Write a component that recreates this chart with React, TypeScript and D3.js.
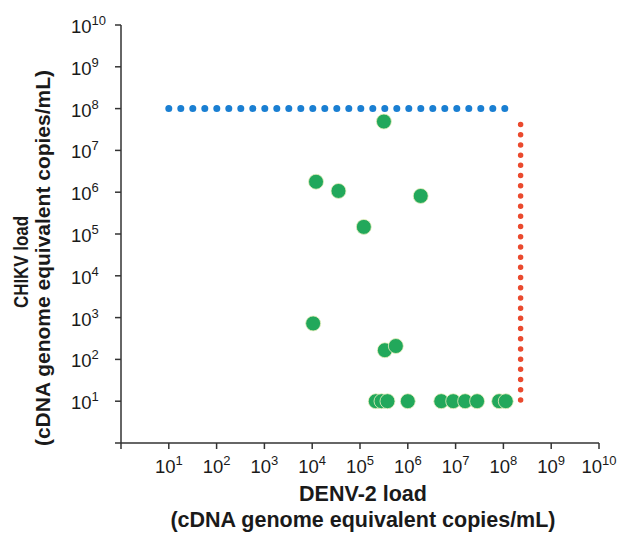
import React from "react";
import * as d3 from "d3";

// ---- data ----
const xTickExponents = [1, 2, 3, 4, 5, 6, 7, 8, 9, 10];
const yTickExponents = [1, 2, 3, 4, 5, 6, 7, 8, 9, 10];
const allTickExponents = [0, 1, 2, 3, 4, 5, 6, 7, 8, 9, 10];

// co-infected samples (log10 DENV-2 load, log10 CHIKV load)
const greenLogX = [5.5, 4.08, 4.55, 6.27, 5.08, 4.02, 5.52, 5.75, 5.33, 5.45, 5.575, 6.0, 6.7, 6.95, 7.2, 7.45, 7.91, 8.05];
const greenLogY = [7.69, 6.25, 6.03, 5.91, 5.17, 2.86, 2.22, 2.32, 1, 1, 1, 1, 1, 1, 1, 1, 1, 1];

// dotted reference lines (log10 values)
const blueLineLogX = [1, 8.05];
const blueLineLogY = [8, 8];
const redLineLogX = [8.36, 8.36];
const redLineLogY = [1.03, 7.85];

const xTitle = ["DENV-2 load", "(cDNA genome equivalent copies/mL)"];
const yTitle = ["CHIKV load", "(cDNA genome equivalent copies/mL)"];

export default function App() {
  const W = 633, H = 538;
  const x = d3.scaleLog().domain([1, 1e10]).range([121, 599]);
  const y = d3.scaleLog().domain([1, 1e10]).range([443, 25]);
  const font = "'Liberation Sans', Arial, Helvetica, sans-serif";
  const axisColor = "#333";
  const textColor = "#1a1a1a";

  const blueLine = d3.line<number>()
    .x((_, i) => x(Math.pow(10, blueLineLogX[i])))
    .y((_, i) => y(Math.pow(10, blueLineLogY[i])));
  const redLine = d3.line<number>()
    .x((_, i) => x(Math.pow(10, redLineLogX[i])))
    .y((_, i) => y(Math.pow(10, redLineLogY[i])));

  return (
    <svg width={W} height={H} style={{ position: "absolute", left: 0, top: 0, background: "#fff" }} fontFamily={font}>
      {/* axes */}
      <line x1={x(1)} x2={x(1e10)} y1={y(1)} y2={y(1)} stroke={axisColor} strokeWidth={1.5} />
      <line x1={x(1)} x2={x(1)} y1={y(1)} y2={y(1e10)} stroke={axisColor} strokeWidth={1.5} />
      {allTickExponents.map((e) => (
        <line key={"xt" + e} x1={x(Math.pow(10, e))} x2={x(Math.pow(10, e))} y1={y(1)} y2={y(1) + 6} stroke={axisColor} strokeWidth={1.5} />
      ))}
      {allTickExponents.map((e) => (
        <line key={"yt" + e} x1={x(1) - 6} x2={x(1)} y1={y(Math.pow(10, e))} y2={y(Math.pow(10, e))} stroke={axisColor} strokeWidth={1.5} />
      ))}
      {/* tick labels */}
      {xTickExponents.map((e) => (
        <text key={"xl" + e} x={x(Math.pow(10, e))} y={473} textAnchor="middle" fontSize={18.5} fill={textColor}>
          10<tspan fontSize={13} dy={-8}>{e}</tspan>
        </text>
      ))}
      {yTickExponents.map((e) => (
        <text key={"yl" + e} x={71} y={y(Math.pow(10, e)) + 8} textAnchor="start" fontSize={18.5} fill={textColor}>
          10<tspan fontSize={13} dy={-8}>{e}</tspan>
        </text>
      ))}
      {/* titles */}
      <text x={363} y={501} textAnchor="middle" fontSize={21.5} fontWeight="bold" fill={textColor}>{xTitle[0]}</text>
      <text x={363} y={527} textAnchor="middle" fontSize={21.5} fontWeight="bold" fill={textColor}>{xTitle[1]}</text>
      <g transform="translate(28,262) rotate(-90)">
        <text x={0} y={0} textAnchor="middle" fontSize={20} fontWeight="bold" fill={textColor} textLength={92} lengthAdjust="spacingAndGlyphs">{yTitle[0]}</text>
      </g>
      <g transform="translate(50,258) rotate(-90)">
        <text x={0} y={0} textAnchor="middle" fontSize={21} fontWeight="bold" fill={textColor}>{yTitle[1]}</text>
      </g>
      {/* dotted lines */}
      <path d={blueLine([0, 1]) || ""} stroke="#1a7fd2" strokeWidth={7} strokeLinecap="round" strokeDasharray="0 12" fill="none" />
      <path d={redLine([0, 1]) || ""} stroke="#ea4a2e" strokeWidth={5.5} strokeLinecap="round" strokeDasharray="0 10.2" fill="none" />
      {/* green points */}
      {greenLogX.map((lx, i) => (
        <circle key={"g" + i} cx={x(Math.pow(10, lx))} cy={y(Math.pow(10, greenLogY[i]))} r={7.5} fill="#22a85b" stroke="#eef0c0" strokeWidth={0.8} />
      ))}
    </svg>
  );
}
